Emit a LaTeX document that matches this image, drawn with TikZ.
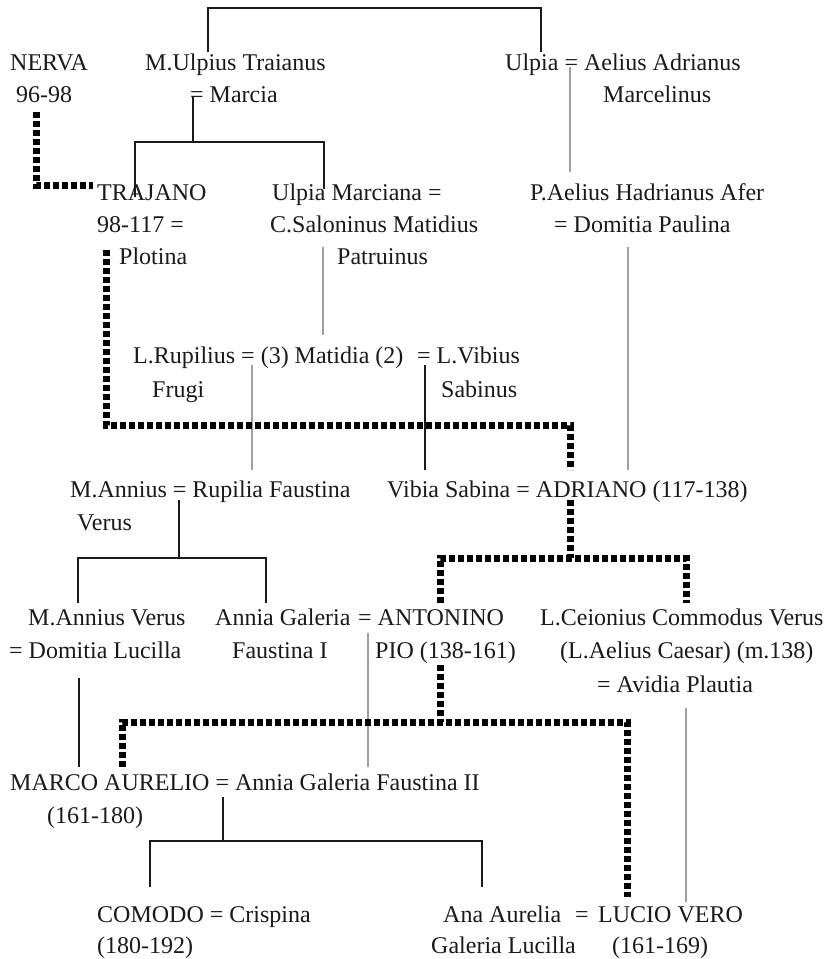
\documentclass[tikz,border=0pt]{standalone}
\usepackage{fontspec}
\setmainfont{Liberation Serif}
\newcommand\famfont{\fontsize{24}{28}\selectfont}
\definecolor{ink}{HTML}{1A1A1A}
\definecolor{faint}{HTML}{A0A0A0}
\begin{document}
\begin{tikzpicture}[x=1pt,y=-1pt,
  person/.style={anchor=base west, inner sep=0pt, font=\famfont, text=ink},
  kin/.style={draw=ink, line width=1.3pt},
  kinfaint/.style={draw=faint, line width=1.6pt},
  reign/.style={draw=black, line width=7pt, dash pattern=on 6pt off 3pt}]
\useasboundingbox[fill=white] (0,0) rectangle (830,959);

% ---- names, one node per printed line ----
\node[person] (ner1) at (10,70)  {NERVA};
\node[person] (ner2) at (16,102) {96-98};
\node[person] (mut1) at (145,70) {M.Ulpius Traianus};
\node[person] (mut2) at (190,102) {= Marcia};
\node[person] (ulp1) at (505,70) {Ulpia = Aelius Adrianus};
\node[person] (ulp2) at (603,102) {Marcelinus};

\node[person] (tra1) at (97,200)  {TRAJANO};
\node[person] (tra2) at (97,232)  {98-117 =};
\node[person] (tra3) at (119,264) {Plotina};
\node[person] (umc1) at (272,200) {Ulpia Marciana =};
\node[person] (umc2) at (270,232) {C.Saloninus Matidius};
\node[person] (umc3) at (337,264) {Patruinus};
\node[person] (pah1) at (530,200) {P.Aelius Hadrianus Afer};
\node[person] (pah2) at (554,232) {= Domitia Paulina};

\node[person] (mat1) at (133,363) {L.Rupilius = (3) Matidia (2)};
\node[person] (mat2) at (417,363) {= L.Vibius};
\node[person] (mat3) at (152,397) {Frugi};
\node[person] (mat4) at (441,397) {Sabinus};

\node[person] (ann1) at (70,497) {M.Annius = Rupilia Faustina};
\node[person] (ann2) at (77,530) {Verus};
\node[person] (adr)  at (387,497) {Vibia Sabina = ADRIANO (117-138)};

\node[person] (mav1) at (28,625) {M.Annius Verus};
\node[person] (mav2) at (9,658)  {= Domitia Lucilla};
\node[person] (agf1) at (215,625) {Annia Galeria};
\node[person] (agf2) at (232,658) {Faustina I};
\node[person] (ant1) at (358,625) {= ANTONINO};
\node[person] (ant2) at (375,658) {PIO (138-161)};
\node[person] (cei1) at (540,625) {L.Ceionius Commodus Verus};
\node[person] (cei2) at (560,658) {(L.Aelius Caesar) (m.138)};
\node[person] (cei3) at (597,692) {= Avidia Plautia};

\node[person] (mar1) at (10,790) {MARCO AURELIO = Annia Galeria Faustina II};
\node[person] (mar2) at (47,823) {(161-180)};

\node[person] (com1) at (97,922) {COMODO = Crispina};
\node[person] (com2) at (97,953) {(180-192)};
\node[person] (ana1) at (443,922) {Ana Aurelia};
\node[person] (ana2) at (431,953) {Galeria Lucilla};
\node[person] (eqlv) at (575,922) {=};
\node[person] (luc1) at (598,922) {LUCIO VERO};
\node[person] (luc2) at (612,953) {(161-169)};

% ---- attachment points ----
\coordinate (sibL) at (208,52);  \coordinate (sibR) at (541,52);
\coordinate (mutE) at (193,97);  \coordinate (mutK) at (193,142);
\coordinate (traT) at (135,197); \coordinate (umcT) at (324,189);
\coordinate (ulpE) at (570,67);  \coordinate (pahT) at (570,172);
\coordinate (umcB) at (323,247); \coordinate (matT) at (323,335);
\coordinate (pahB) at (628,247); \coordinate (adrT) at (628,470);
\coordinate (rupE) at (252,365); \coordinate (annT) at (252,470);
\coordinate (vibE) at (425,365); \coordinate (vsbT) at (425,470);
\coordinate (annE) at (179,500); \coordinate (annK) at (179,558);
\coordinate (mavT) at (78,603);  \coordinate (agfT) at (266,603);
\coordinate (antE) at (368,633); \coordinate (agsT) at (368,767);
\coordinate (mavB) at (79,678);  \coordinate (marT) at (79,767);
\coordinate (avdB) at (686,708); \coordinate (lucT) at (686,902);
\coordinate (marE) at (223,797); \coordinate (marK) at (223,841);
\coordinate (comT) at (150,887); \coordinate (anaT) at (482,887);

% ---- family lines ----
\draw[kin] (sibL) |- (375,8) -| (sibR);
\draw[kin] (mutE) -- (mutK);
\draw[kin] (traT) |- (mutK) -| (umcT);
\draw[kinfaint] (ulpE) -- (pahT);
\draw[kinfaint] (umcB) -- (matT);
\draw[kinfaint] (pahB) -- (adrT);
\draw[kinfaint] (rupE) -- (annT);
\draw[kin] (vibE) -- (vsbT);
\draw[kin] (annE) -- (annK);
\draw[kin] (mavT) |- (annK) -| (agfT);
\draw[kinfaint] (antE) -- (agsT);
\draw[kin] (mavB) -- (marT);
\draw[kinfaint] (avdB) -- (lucT);
\draw[kin] (marE) -- (marK);
\draw[kin] (comT) |- (marK) -| (anaT);

% ---- imperial succession ----
\coordinate (nerB) at (36,112);  \coordinate (traL) at (93,185);
\coordinate (traB) at (106,250); \coordinate (adrA) at (570,470);
\coordinate (adrB) at (570,500); \coordinate (adrK) at (570,558);
\coordinate (antA) at (440,603); \coordinate (ceiA) at (686,603);
\coordinate (antB) at (440,665); \coordinate (antK) at (440,722);
\coordinate (marA) at (122,767); \coordinate (lucA) at (627,897);
\draw[reign] (nerB) |- (traL);
\draw[reign] (traB) |- (adrA |- 0,425) -- (adrA);
\draw[reign] (adrB) -- (adrK);
\draw[reign] (antA) |- (adrK) -| (ceiA);
\draw[reign] (antB) -- (antK);
\draw[reign] (marA) |- (antK) -| (lucA);
\end{tikzpicture}
\end{document}
